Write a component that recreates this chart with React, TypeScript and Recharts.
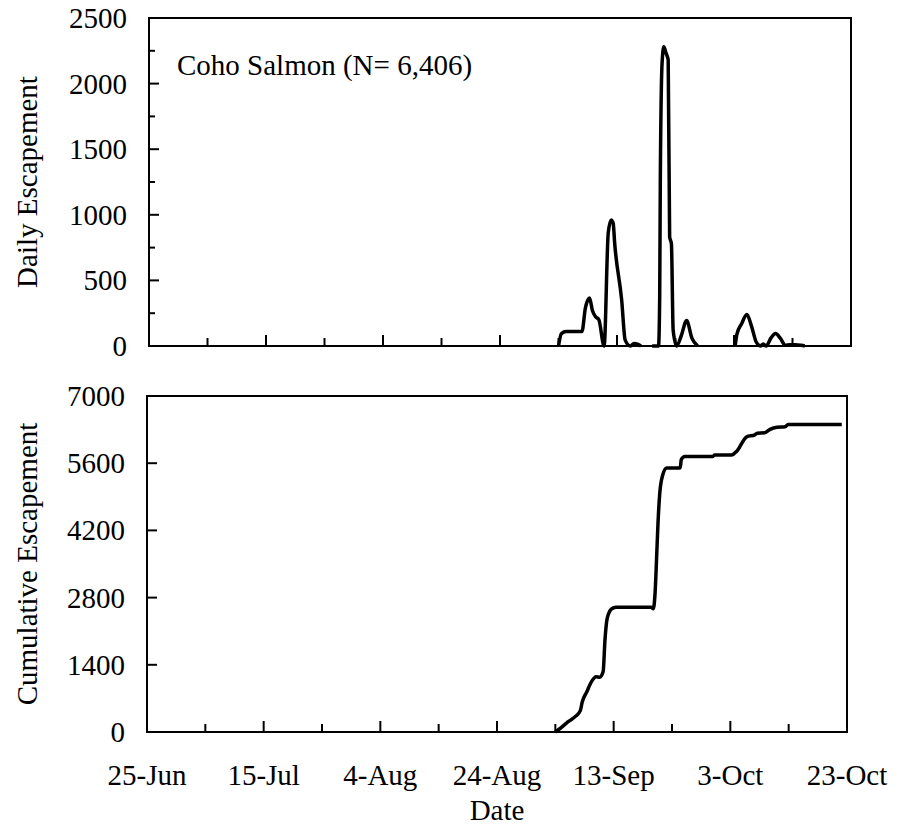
import { LineChart, Line, XAxis, YAxis, ReferenceArea } from "recharts";

const FONT = "'Liberation Serif', 'Times New Roman', serif";
const FONT_SIZE = 29;

// x axis: days after 25-Jun
const dayTicks = [0, 10, 20, 30, 40, 50, 60, 70, 80, 90, 100, 110, 120];
const dayLabels = ["25-Jun", "15-Jul", "4-Aug", "24-Aug", "13-Sep", "3-Oct", "23-Oct"];

const dailyTicks = [0, 250, 500, 750, 1000, 1250, 1500, 1750, 2000, 2250, 2500];
const cumulativeTicks = [0, 1400, 2800, 4200, 5600, 7000];

// daily counts (null = no sampling)
const dailyDays = [
  70, 70.5, 71.3, 74, 74.6, 75.3, 75.8, 76.3, 76.9, 77.8,
  78.5, 79, 79.35, 79.6, 80.8, 81.4, 82.3, 82.9, 83.5, 84.1, 85,
  86, 87.1, 87.3, 87.4, 87.7, 88, 88.4, 88.75, 89, 89.3, 89.6, 90.2,
  91, 91.9, 92.8, 93.8, 97,
  100.2, 100.5, 101.3, 102.2, 103, 103.8, 104.5, 105, 105.5, 106.3,
  107.1, 107.9, 108.8, 109.5, 110.5, 111.5, 112.1,
];
const dailyCounts = [
  0, 95, 110, 110, 290, 365, 270, 225, 200, 0,
  860, 960, 935, 785, 350, 45, 0, 20, 15, 0, null,
  0, 0, 380, 1240, 2150, 2280, 2230, 2180, 830, 780, 120, 0,
  80, 195, 60, 0, null,
  0, 90, 170, 240, 150, 30, 0, 15, 0, 60,
  95, 60, 5, 10, 10, 5, 0,
];

const cumulativeDays = [
  70, 71, 72.2, 73.5, 74.3, 74.6, 75.4, 76.2, 77, 77.6,
  78.2, 78.5, 78.9, 79.6, 80.4, 86.4, 86.8, 87.1, 87.4, 87.6,
  87.9, 88.4, 89.1, 91.4, 91.6, 92.2, 97, 97.3, 100.2, 101.1,
  102.8, 104.2, 104.6, 105.9, 106.8, 108, 109.4, 109.9, 119.1,
];
const cumulativeCounts = [
  0, 90, 215, 330, 450, 620, 840, 1050, 1150, 1140,
  1260, 1900, 2370, 2560, 2600, 2600, 2570, 2900, 3750, 4350,
  4970, 5350, 5500, 5500, 5680, 5740, 5740, 5770, 5770, 5850,
  6150, 6190, 6225, 6235, 6305, 6350, 6360, 6406, 6406,
];

const dailyData = dailyDays.map((d, i) => ({ d, v: dailyCounts[i] }));
const cumulativeData = cumulativeDays.map((d, i) => ({ d, v: cumulativeCounts[i] }));

const textStyle = { fontFamily: FONT, fontSize: FONT_SIZE, fill: "#000" };

// inward x tick, optional date label under the axis
const XTick = (props: any) => {
  const { x, y, payload, showLabels } = props;
  const major = payload.value % 20 === 0;
  return (
    <g>
      <line x1={x} x2={x} y1={y} y2={y - (major ? 11 : 8)} stroke="#000" strokeWidth={2} />
      {showLabels && major && (
        <text x={x} y={y + 53} textAnchor="middle" style={textStyle}>
          {dayLabels[payload.value / 20]}
        </text>
      )}
    </g>
  );
};

// inward y tick, label only on major steps
const YTick = (props: any) => {
  const { x, y, payload, majorStep } = props;
  const major = payload.value % majorStep === 0;
  return (
    <g>
      <line x1={x} x2={x + (major ? 10 : 6)} y1={y} y2={y} stroke="#000" strokeWidth={2} />
      {major && (
        <text x={x - 22} y={y + 10} textAnchor="end" style={textStyle}>
          {payload.value}
        </text>
      )}
    </g>
  );
};

export default function App() {
  return (
    <div style={{ position: "absolute", left: 0, top: 0, width: 897, height: 836, background: "#fff" }}>
      <div style={{ position: "absolute", left: 0, top: 0 }}>
        <LineChart width={897} height={370} data={dailyData} margin={{ top: 18, right: 46, bottom: 4, left: 129 }}>
          <XAxis
            dataKey="d"
            type="number"
            domain={[0, 120]}
            ticks={dayTicks}
            interval={0}
            axisLine={false}
            tickLine={false}
            tickSize={0}
            tickMargin={0}
            height={20}
            allowDataOverflow
            tick={(p: any) => <XTick {...p} showLabels={false} />}
          />
          <YAxis
            type="number"
            domain={[0, 2500]}
            ticks={dailyTicks}
            interval={0}
            axisLine={false}
            tickLine={false}
            tickSize={0}
            tickMargin={0}
            width={20}
            tick={(p: any) => <YTick {...p} majorStep={500} />}
          />
          <ReferenceArea x1={0} x2={120} y1={0} y2={2500} fill="none" stroke="#000" strokeWidth={2} />
          <Line
            type="monotone"
            dataKey="v"
            stroke="#000"
            strokeWidth={3.5}
            dot={false}
            activeDot={false}
            connectNulls={false}
            isAnimationActive={false}
          />
        </LineChart>
      </div>
      <div style={{ position: "absolute", left: 0, top: 370 }}>
        <LineChart width={897} height={466} data={cumulativeData} margin={{ top: 26, right: 50, bottom: 84, left: 127 }}>
          <XAxis
            dataKey="d"
            type="number"
            domain={[0, 120]}
            ticks={dayTicks}
            interval={0}
            axisLine={false}
            tickLine={false}
            tickSize={0}
            tickMargin={0}
            height={20}
            allowDataOverflow
            tick={(p: any) => <XTick {...p} showLabels={true} />}
          />
          <YAxis
            type="number"
            domain={[0, 7000]}
            ticks={cumulativeTicks}
            interval={0}
            axisLine={false}
            tickLine={false}
            tickSize={0}
            tickMargin={0}
            width={20}
            tick={(p: any) => <YTick {...p} majorStep={1400} />}
          />
          <ReferenceArea x1={0} x2={120} y1={0} y2={7000} fill="none" stroke="#000" strokeWidth={2} />
          <Line
            type="monotone"
            dataKey="v"
            stroke="#000"
            strokeWidth={3.5}
            dot={false}
            activeDot={false}
            isAnimationActive={false}
          />
        </LineChart>
      </div>
      <svg width={897} height={836} style={{ position: "absolute", left: 0, top: 0, pointerEvents: "none" }}>
        <text x={177} y={75} style={textStyle}>Coho Salmon (N= 6,406)</text>
        <text x={0} y={0} textAnchor="middle" transform="translate(37,182) rotate(-90)" style={textStyle}>
          Daily Escapement
        </text>
        <text x={0} y={0} textAnchor="middle" transform="translate(37,564) rotate(-90)" style={textStyle}>
          Cumulative Escapement
        </text>
        <text x={497} y={820} textAnchor="middle" style={textStyle}>Date</text>
      </svg>
    </div>
  );
}
